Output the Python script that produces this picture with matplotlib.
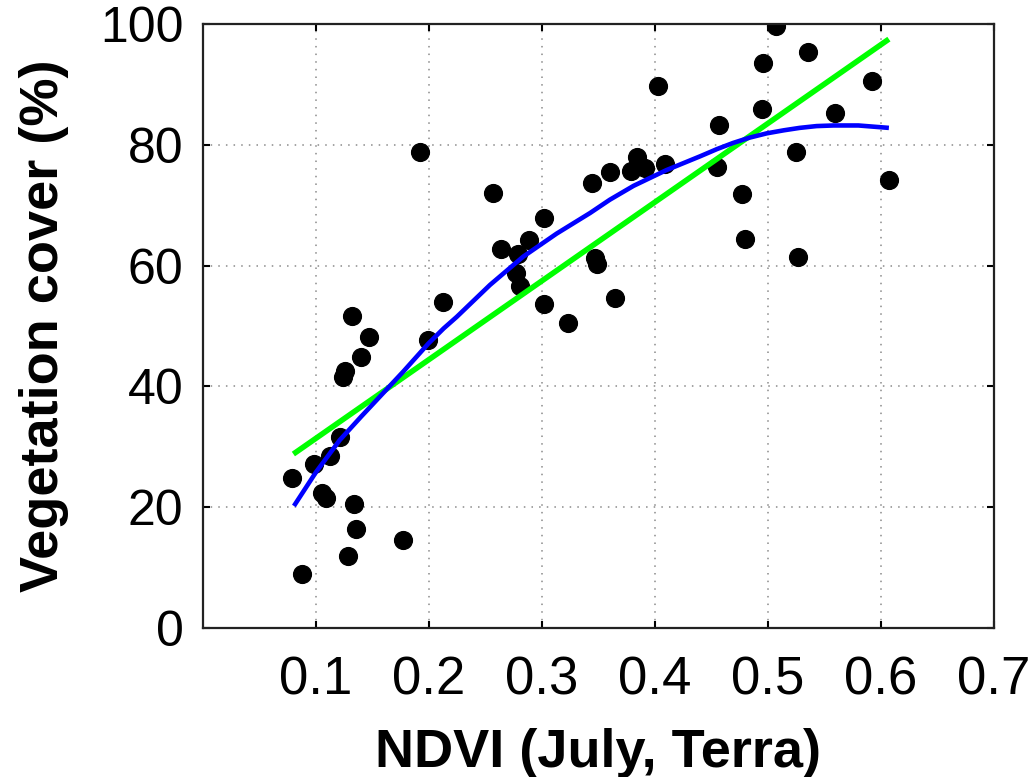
import matplotlib
matplotlib.use('Agg')
import matplotlib.pyplot as plt

plt.rcParams['font.family'] = ['Liberation Sans', 'DejaVu Sans']

# observed points: NDVI (July, Terra) vs vegetation cover (%)
ndvi = [0.079, 0.088, 0.098, 0.105, 0.1085, 0.112, 0.121, 0.124, 0.126, 0.128,
        0.132, 0.1336, 0.135, 0.1395, 0.147, 0.177, 0.192, 0.1995, 0.212, 0.257,
        0.264, 0.277, 0.279, 0.2805, 0.2885, 0.302, 0.302, 0.323, 0.344, 0.347,
        0.349, 0.360, 0.365, 0.379, 0.384, 0.391, 0.403, 0.409, 0.4546, 0.4566,
        0.477, 0.480, 0.495, 0.496, 0.507, 0.525, 0.527, 0.535, 0.559, 0.592,
        0.607]
cover = [24.8, 9.0, 27.1, 22.4, 21.6, 28.5, 31.7, 41.6, 42.6, 11.9,
         51.6, 20.5, 16.4, 44.8, 48.2, 14.5, 78.8, 47.6, 53.9, 72.1,
         62.7, 58.7, 61.9, 56.6, 64.2, 67.8, 53.6, 50.5, 73.6, 61.2,
         60.2, 75.5, 54.6, 75.6, 78.0, 76.1, 89.8, 76.9, 76.4, 83.3,
         71.9, 64.4, 86.0, 93.5, 99.7, 78.8, 61.5, 95.3, 85.3, 90.6,
         74.1]

# linear fit (green), read at its ends
lin_x = [0.080, 0.607]
lin_y = [28.8, 97.5]

# nonlinear fit (blue)
crv_x = [0.0805, 0.100, 0.121, 0.140, 0.158, 0.177, 0.1995, 0.213, 0.2245, 0.254,
         0.2835, 0.313, 0.3425, 0.360, 0.381, 0.410, 0.440, 0.455, 0.469, 0.484,
         0.499, 0.514, 0.528, 0.543, 0.558, 0.580, 0.607]
crv_y = [20.2, 25.8, 31.1, 35.0, 38.6, 42.4, 47.1, 49.6, 51.5, 56.8,
         61.5, 65.3, 68.7, 70.9, 73.2, 75.8, 78.1, 79.3, 80.3, 81.2,
         81.9, 82.4, 82.8, 83.1, 83.2, 83.2, 82.8]

xticks = [0.1, 0.2, 0.3, 0.4, 0.5, 0.6, 0.7]
yticks = [0, 20, 40, 60, 80, 100]

fig = plt.figure(figsize=(10.34, 7.77), dpi=100)
ax = fig.add_axes([0.1963, 0.1918, 0.765, 0.7773])

ax.plot(ndvi, cover, 'o', color='black', markersize=12.8, zorder=2)
ax.plot(lin_x, lin_y, color='#00ff00', lw=4.0, solid_capstyle='butt', zorder=3)
ax.plot(crv_x, crv_y, color='#0000ff', lw=3.3, solid_capstyle='butt',
        solid_joinstyle='round', zorder=4)

ax.set_xlim(0, 0.7)
ax.set_ylim(0, 100)
ax.set_xticks(xticks)
ax.set_yticks(yticks)
ax.set_xticklabels(['%.1f' % t for t in xticks])
ax.set_yticklabels([str(t) for t in yticks])

ax.grid(True, color='#8a8a8a', linestyle=(0, (1, 4)), lw=1.1)
ax.set_axisbelow(True)

for s in ax.spines.values():
    s.set_linewidth(1.6)
    s.set_color('#222222')

ax.tick_params(direction='in', length=5, width=1.5, top=True, right=True,
               labelsize=36, pad=14)
ax.tick_params(axis='x', labelsize=38, pad=20)

ax.set_xlabel('NDVI (July, Terra)', fontsize=39, fontweight='bold', labelpad=16)
ax.set_ylabel('Vegetation cover (%)', fontsize=39, fontweight='bold', labelpad=22)

fig.savefig('out.png', dpi=100)
